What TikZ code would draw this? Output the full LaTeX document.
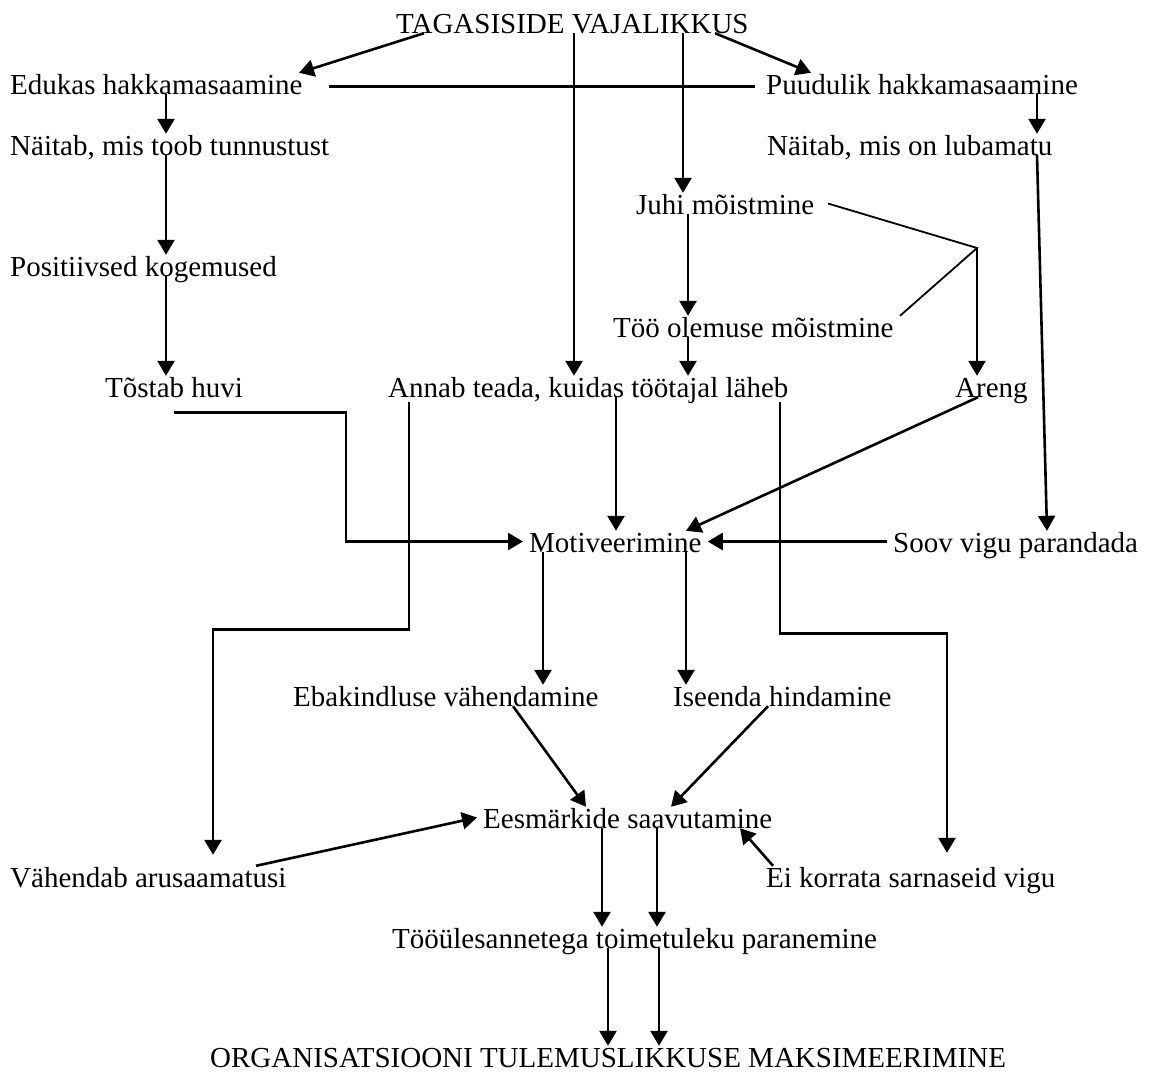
\documentclass[tikz,border=0pt]{standalone}
\usepackage{fontspec}
\setmainfont{Liberation Serif}
\usetikzlibrary{arrows.meta,positioning}
\tikzset{
  lbl/.style={
    anchor = base west,
    inner xsep = 6pt,
    inner ysep = 0pt,
    text height = 21pt,
    text depth = 0pt,
    font = \fontsize{29}{34}\selectfont
  },
  arr/.style={
    line width = 2.6pt,
    -{Triangle[length=15pt,width=17pt]}
  },
  ln/.style={
    line width = 2.6pt
  },
  thn/.style={
    line width = 1.8pt
  },
}

\begin{document}
\begin{tikzpicture}[x=1pt,y=-1pt]
\useasboundingbox (0,0) rectangle (1155,1071);
\node[lbl] (tag) at (390,33) {TAGASISIDE VAJALIKKUS};
\node[lbl] (edukas) at (4,94) {Edukas hakkamasaamine};
\node[lbl] (puud) at (760,94) {Puudulik hakkamasaamine};
\node[lbl] (tunnus) at (4,155) {Näitab, mis toob tunnustust};
\node[lbl] (lubam) at (761,155) {Näitab, mis on lubamatu};
\node[lbl] (juhi) at (630,214) {Juhi mõistmine};
\node[lbl] (positiiv) at (4,276) {Positiivsed kogemused};
\node[lbl] (olemus) at (607,337) {Töö olemuse mõistmine};
\node[lbl] (tostab) at (99,397) {Tõstab huvi};
\node[lbl] (annab) at (382,397) {Annab teada, kuidas töötajal läheb};
\node[lbl] (areng) at (949,397) {Areng};
\node[lbl] (motiv) at (523,552) {Motiveerimine};
\node[lbl] (soov) at (887,552) {Soov vigu parandada};
\node[lbl] (ebak) at (287,706) {Ebakindluse vähendamine};
\node[lbl] (isee) at (667,706) {Iseenda hindamine};
\node[lbl] (eesm) at (477,828) {Eesmärkide saavutamine};
\node[lbl] (vahend) at (4,887) {Vähendab arusaamatusi};
\node[lbl] (eikorr) at (760,887) {Ei korrata sarnaseid vigu};
\node[lbl] (tooul) at (386,948) {Tööülesannetega toimetuleku paranemine};
\node[lbl] (org) at (204,1067) {ORGANISATSIOONI TULEMUSLIKKUSE MAKSIMEERIMINE};
\coordinate (fork) at (977,248);

\draw[arr] (tag.south -| 424,0) -- (edukas.north -| 299,0);
\draw[arr] (tag.south -| 715,0) -- (puud.north -| 811,0);
\draw[ln, shorten <=20pt, shorten >=5pt] ([yshift=-3pt]edukas.east) -- ([yshift=-3pt]puud.west);
\draw[arr] (tag.south -| 574,0) -- (annab.north -| 574,0);
\draw[arr] (tag.south -| 683,0) -- (juhi.north -| 683,0);
\foreach \a/\b in {edukas/tunnus,tunnus/positiiv,positiiv/tostab}
  \draw[arr] (\a.south -| 166,0) -- (\b.north -| 166,0);
\draw[arr] (puud.south -| 1037,0) -- (lubam.north -| 1037,0);
\draw[arr] (lubam.south -| 1037,0) -- (soov.north -| 1047,0);
\draw[arr] (juhi.south -| 688,0) -- (olemus.north -| 688,0);
\draw[arr] (olemus.south -| 688,0) -- (annab.north -| 688,0);
\draw[thn] (juhi.east -| 828,0) -- (fork) -- (olemus.north east -| 900,0);
\draw[arr] (fork) -- (areng.north -| fork);
\draw[arr] ([yshift=-15pt]tostab.south) -- ++(172,0) |- (motiv.west);
\draw[arr] (annab.south -| 616,0) -- (motiv.north -| 616,0);
\draw[arr] (areng.south -| 978,0) -- (motiv.north -| 686,0);
\draw[arr] (soov.west) -- (motiv.east);
\draw[arr, shorten <=5pt, shorten >=11pt] (annab.south -| 409,0) -- ++(0,232) -| (vahend.north -| 213,0);
\draw[arr, shorten <=5pt, shorten >=13pt] (annab.south -| 780,0) -- ++(0,236) -| (eikorr.north -| 947,0);
\draw[arr] (motiv.south -| 543,0) -- (ebak.north -| 543,0);
\draw[arr] (motiv.south -| 686,0) -- (isee.north -| 686,0);
\draw[arr] (ebak.south -| 513,0) -- (eesm.north -| 586,0);
\draw[arr] (isee.south -| 768,0) -- (eesm.north -| 671,0);
\draw[arr] (vahend.north -| 256,0) -- (eesm.west);
\draw[arr] (eikorr.north -| 773,0) -- (eesm.south -| 740,0);
\foreach \x in {602,657}
  \draw[arr] (eesm.south -| \x,0) -- (tooul.north -| \x,0);
\foreach \x in {608,659}
  \draw[arr] (tooul.south -| \x,0) -- (org.north -| \x,0);
\end{tikzpicture}
\end{document}
